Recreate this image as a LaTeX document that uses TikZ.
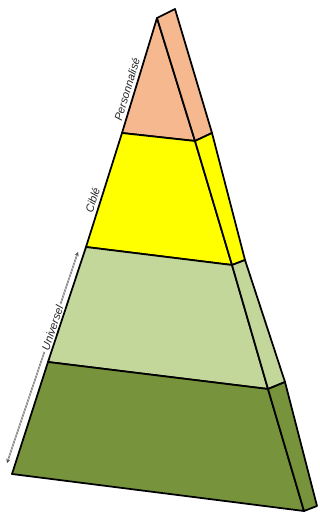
\documentclass[tikz,border=0pt]{standalone}
\usepackage{tikz}
\usepackage{fontspec}
\setsansfont{Liberation Sans}
\usetikzlibrary{arrows}
\definecolor{peach}{HTML}{F6B98F}
\definecolor{jaune}{HTML}{FFFF00}
\definecolor{vertclair}{HTML}{C4D79B}
\definecolor{vertfonce}{HTML}{77933C}
\tikzstyle{face} = [
    draw=black,
    line width=1.5pt,
    line join=round
]
\tikzstyle{niveau} = [
    font=\fontsize{9.5}{11}\selectfont\sffamily\itshape,
    text=black!85,
    sloped,
    inner sep=0.5pt
]
\tikzstyle{arrow} = [<->,>=stealth,draw=black!70,line width=0.35pt,
    double=black!15,double distance=0.5pt]

\begin{document}
\begin{tikzpicture}[x=0.03cm,y=-0.03cm]

\useasboundingbox (0,0) rectangle (320,514);

% sommet et bords
\coordinate (apex) at (157,18);
\coordinate (top) at (175,9);
\coordinate (l1) at (122,133);
\coordinate (l2) at (86,247);
\coordinate (l3) at (48,362);
\coordinate (l4) at (12,474);
\coordinate (r1) at (195,141);
\coordinate (r2) at (232,265);
\coordinate (r3) at (268,389);
\coordinate (r4) at (304,511);
\coordinate (o1) at (212,133);
\coordinate (o2) at (245,260);
\coordinate (o3) at (285,382);
\coordinate (o4) at (317,506);

% fleche universel
\coordinate (uhaut) at (78,252);
\coordinate (ubas) at (7,463);
\draw [arrow] (uhaut) -- (ubas)
    node (universel) [niveau, pos=0.36, fill=white, inner sep=1.5pt] {Universel};

% faces avant
\filldraw [face, fill=peach] (apex) -- (r1) -- (l1) -- cycle;
\filldraw [face, fill=jaune] (l1) -- (r1) -- (r2) -- (l2) -- cycle;
\filldraw [face, fill=vertclair] (l2) -- (r2) -- (r3) -- (l3) -- cycle;
\filldraw [face, fill=vertfonce] (l3) -- (r3) -- (r4) -- (l4) -- cycle;

% faces de cote
\filldraw [face, fill=peach] (apex) -- (top) -- (o1) -- (r1) -- cycle;
\filldraw [face, fill=jaune] (r1) -- (o1) -- (o2) -- (r2) -- cycle;
\filldraw [face, fill=vertclair] (r2) -- (o2) -- (o3) -- (r3) -- cycle;
\filldraw [face, fill=vertfonce] (r3) -- (o3) -- (o4) -- (r4) -- cycle;

% etiquettes
\path (l1) -- (apex) node (perso) [niveau, pos=0.36, above=2.5pt] {Personnalisé};
\path (l2) -- (l1) node (cible) [niveau, pos=0.39, above=2.5pt] {Ciblé};

\end{tikzpicture}
\end{document}
